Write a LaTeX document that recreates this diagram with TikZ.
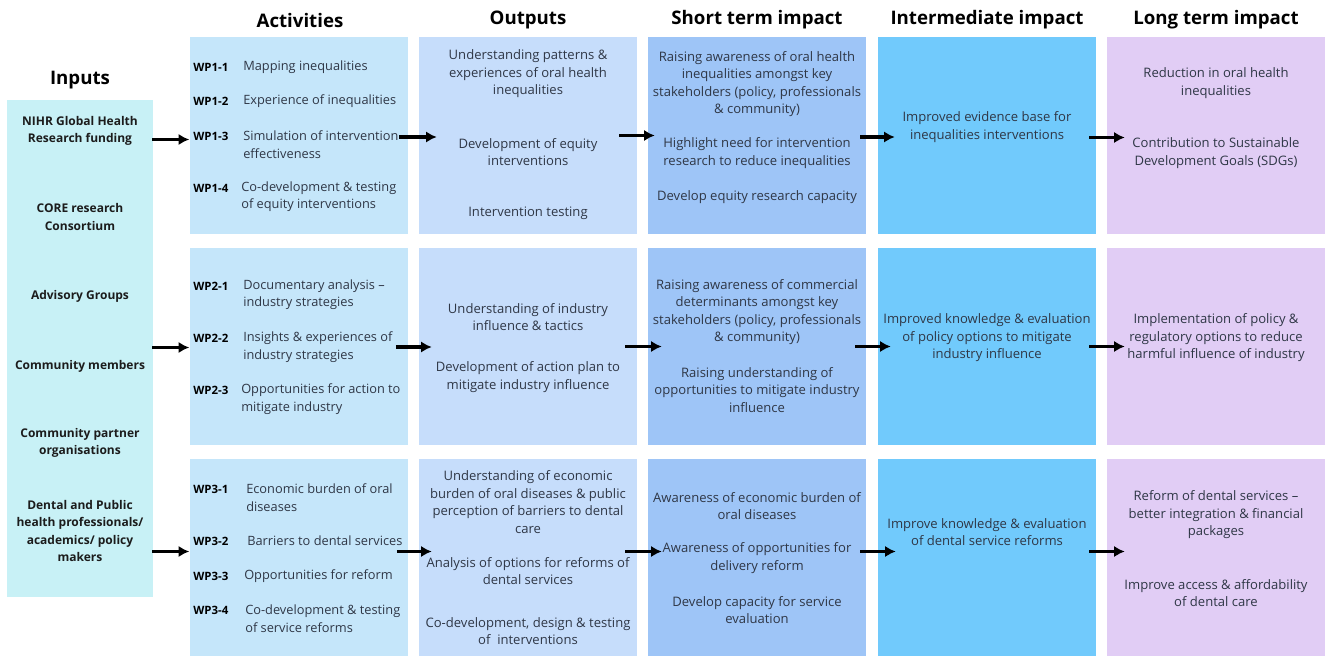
\documentclass[tikz,border=0pt]{standalone}
\usepackage{fontspec}
\setmainfont{Open Sans}
\usetikzlibrary{arrows.meta,positioning,calc}
\definecolor{inpfill}{HTML}{C8F1F6}
\definecolor{actfill}{HTML}{C5E6FA}
\definecolor{outfill}{HTML}{C6DDFB}
\definecolor{shortfill}{HTML}{9EC5F7}
\definecolor{midfill}{HTML}{71CAFC}
\definecolor{longfill}{HTML}{E1CDF5}
\definecolor{bodytxt}{HTML}{2F3746}
\definecolor{inptxt}{HTML}{1C1C1C}
\tikzset{
  cell/.style={rectangle,inner sep=0pt,minimum width=163.5pt,minimum height=147.75pt},
  txt/.style={align=center,text=bodytxt,font=\fontsize{9.8}{13.1}\selectfont,inner sep=0pt},
  wptxt/.style={align=left,anchor=west,text=bodytxt,font=\fontsize{9.6}{13.1}\selectfont,inner sep=0pt},
  wplab/.style={anchor=west,text=black,font=\fontsize{8.6}{10}\selectfont\bfseries,inner sep=0pt},
  inplab/.style={align=center,text=inptxt,font=\fontsize{9}{13.1}\selectfont\bfseries,inner sep=0pt},
  head/.style={text=black,font=\fontsize{14}{16}\selectfont\bfseries,inner sep=0pt},
  flow/.style={-{Latex[length=8pt,width=8.5pt]},line width=2.4pt}
}

\begin{document}
\begin{tikzpicture}[x=0.75pt,y=-0.75pt]
\fill[white] (0,0) rectangle (1327,657); \useasboundingbox (0,0) rectangle (1327,657);
% headings
\node[head] (hinp) at (80,80) {Inputs};
\node[head] (hact) at (300,20) {Activities}; \node[head] (hout) at (528,20) {Outputs};
\node[head] (hshort) at (757,20) {Short term impact}; \node[head] (hmid) at (987,20) {Intermediate impact};
\node[head] (hlong) at (1216,20) {Long term impact};
% boxes
\node[cell,fill=inpfill,minimum width=109.5pt,minimum height=372.75pt] (inp) at (80,348.5) {};
\node[cell,fill=actfill] (act1) at (298.5,135.5) {}; \node[cell,fill=actfill] (act2) at (298.5,346.5) {}; \node[cell,fill=actfill] (act3) at (298.5,557.5) {};
\node[cell,fill=outfill] (out1) at (528,135.5) {}; \node[cell,fill=outfill] (out2) at (528,346.5) {}; \node[cell,fill=outfill] (out3) at (528,557.5) {};
\node[cell,fill=shortfill] (short1) at (757,135.5) {}; \node[cell,fill=shortfill] (short2) at (757,346.5) {}; \node[cell,fill=shortfill] (short3) at (757,557.5) {};
\node[cell,fill=midfill] (mid1) at (987,135.5) {}; \node[cell,fill=midfill] (mid2) at (987,346.5) {}; \node[cell,fill=midfill] (mid3) at (987,557.5) {};
\node[cell,fill=longfill] (long1) at (1216,135.5) {}; \node[cell,fill=longfill] (long2) at (1216,346.5) {}; \node[cell,fill=longfill] (long3) at (1216,557.5) {};
% inputs
\node[inplab] (inpa) at (80,131) {NIHR Global Health\\Research funding};
\node[inplab] (inpb) at (80,217) {CORE research\\Consortium};
\node[inplab] (inpc) at (80,296) {Advisory Groups};
\node[inplab] (inpd) at (80,366) {Community members};
\node[inplab] (inpe) at (80,443) {Community partner\\organisations};
\node[inplab] (inpf) at (80,531) {Dental and Public\\health professionals/\\academics/ policy\\makers};
% activities
\node[wplab] (wp11) at (193,67) {WP1-1}; \node[wptxt] (wp11t) at (243,67) {Mapping inequalities};
\node[wplab] (wp12) at (193,101) {WP1-2}; \node[wptxt] (wp12t) at (243,101) {Experience of inequalities};
\node[wplab] (wp13) at (193,136) {WP1-3}; \node[wptxt] (wp13t) at (243,144.5) {Simulation of intervention\\effectiveness};
\node[wplab] (wp14) at (193,188) {WP1-4}; \node[wptxt] (wp14t) at (241,196.5) {Co-development \& testing\\of equity interventions};
\node[wplab] (wp21) at (193,286) {WP2-1}; \node[wptxt] (wp21t) at (243,294.5) {Documentary analysis --\\industry strategies};
\node[wplab] (wp22) at (193,338) {WP2-2}; \node[wptxt] (wp22t) at (243,347) {Insights \& experiences of\\industry strategies};
\node[wplab] (wp23) at (193,390) {WP2-3}; \node[wptxt] (wp23t) at (241,399) {Opportunities for action to\\mitigate industry};
\node[wplab] (wp31) at (193,489) {WP3-1}; \node[wptxt] (wp31t) at (246,497.5) {Economic burden of oral\\diseases};
\node[wplab] (wp32) at (193,541) {WP3-2}; \node[wptxt] (wp32t) at (247,541) {Barriers to dental services};
\node[wplab] (wp33) at (193,576) {WP3-3}; \node[wptxt] (wp33t) at (244,576) {Opportunities for reform};
\node[wplab] (wp34) at (193,610) {WP3-4}; \node[wptxt] (wp34t) at (245,618.5) {Co-development \& testing\\of service reforms};
% outputs
\node[txt] (out1a) at (528,74) {Understanding patterns \&\\experiences of oral health\\inequalities};
\node[txt] (out1b) at (528,152) {Development of equity\\interventions};
\node[txt] (out1c) at (528,213) {Intervention testing};
\node[txt] (out2a) at (528,317) {Understanding of industry\\influence \& tactics};
\node[txt] (out2b) at (528,377) {Development of action plan to\\mitigate industry influence};
\node[txt] (out3a) at (528,502) {Understanding of economic\\burden of oral diseases \& public\\perception of barriers to dental\\care};
\node[txt] (out3b) at (528,571) {Analysis of options for reforms of\\dental services};
\node[txt] (out3c) at (528,631) {Co-development, design \& testing\\of\ \ interventions};
% short term
\node[txt] (short1a) at (757,84) {Raising awareness of oral health\\inequalities amongst key\\stakeholders (policy, professionals\\\& community)};
\node[txt] (short1b) at (757,153) {Highlight need for intervention\\research to reduce inequalities};
\node[txt] (short1c) at (757,197) {Develop equity research capacity};
\node[txt] (short2a) at (757,312) {Raising awareness of commercial\\determinants amongst key\\stakeholders (policy, professionals\\\& community)};
\node[txt] (short2b) at (757,390) {Raising understanding of\\opportunities to mitigate industry\\influence};
\node[txt] (short3a) at (757,506) {Awareness of economic burden of\\oral diseases};
\node[txt] (short3b) at (757,558) {Awareness of opportunities for\\delivery reform};
\node[txt] (short3c) at (757,610) {Develop capacity for service\\evaluation};
% intermediate
\node[txt] (mid1a) at (987,127) {Improved evidence base for\\inequalities interventions};
\node[txt] (mid2a) at (987,338) {Improved knowledge \& evaluation\\of policy options to mitigate\\industry influence};
\node[txt] (mid3a) at (987,532) {Improve knowledge \& evaluation\\of dental service reforms};
% long term
\node[txt] (long1a) at (1216,83) {Reduction in oral health\\inequalities};
\node[txt] (long1b) at (1216,153) {Contribution to Sustainable\\Development Goals (SDGs)};
\node[txt] (long2a) at (1216,338) {Implementation of policy \&\\regulatory options to reduce\\harmful influence of industry};
\node[txt] (long3a) at (1216,515) {Reform of dental services --\\better integration \& financial\\packages};
\node[txt] (long3b) at (1216,593) {Improve access \& affordability\\of dental care};
% arrows
\draw[flow] ($(inp.east |- act1.west)+(-1,4)$) -- ($(act1.west)+(0,4)$);
\draw[flow] ($(inp.east |- act2.west)+(-1,1)$) -- ($(act2.west)+(0,1)$);
\draw[flow] ($(inp.east |- act3.west)+(-1,-6)$) -- ($(act3.west)+(0,-6)$);
\draw[flow] ($(act1.east)+(-9,1.5)$) -- ($(out1.west)+(18,1.5)$);
\draw[flow] ($(act2.east)+(-12,0.5)$) -- ($(out2.west)+(13,0.5)$);
\draw[flow] ($(act3.east)+(-11,-6)$) -- ($(out3.west)+(13,-6)$);
\draw[flow] ($(out1.east)+(-18,0)$) -- ($(short1.west)+(7,0)$);
\draw[flow] ($(out2.east)+(-12,0)$) -- ($(short2.west)+(14,0)$);
\draw[flow] ($(out3.east)+(-12,-6)$) -- ($(short3.west)+(14,-6)$);
\draw[flow] ($(short1.east)+(-6,1.5)$) -- ($(mid1.west)+(17,1.5)$);
\draw[flow] ($(short2.east)+(-11,0)$) -- ($(mid2.west)+(13,0)$);
\draw[flow] ($(short3.east)+(-6,-6)$) -- ($(mid3.west)+(18,-6)$);
\draw[flow] ($(mid1.east)+(-7,2)$) -- ($(long1.west)+(18,2)$);
\draw[flow] ($(mid2.east)+(-7,0)$) -- ($(long2.west)+(18,0)$);
\draw[flow] ($(mid3.east)+(-7,-6)$) -- ($(long3.west)+(18,-6)$);
\end{tikzpicture}
\end{document}
